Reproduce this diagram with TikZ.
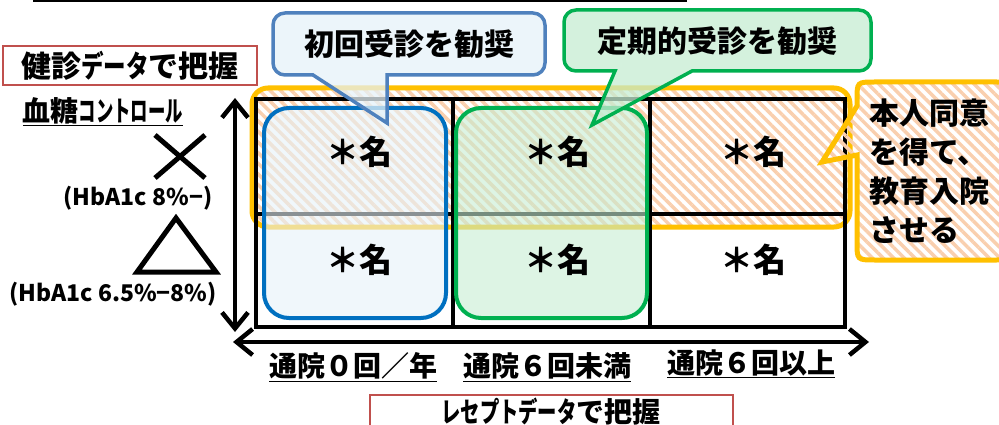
\documentclass[tikz,border=0pt]{standalone}
\usepackage{fontspec}
\setmainfont{Noto Sans CJK JP}
\usetikzlibrary{arrows.meta,patterns.meta}
\definecolor{orgline}{HTML}{FFC000}
\definecolor{orgstripe}{HTML}{F9CFAE}
\definecolor{bluel}{HTML}{0070C0}
\definecolor{bluec}{HTML}{4F81BD}
\definecolor{bluef}{HTML}{E6F2F8}
\definecolor{greenl}{HTML}{00B050}
\definecolor{greenf}{HTML}{C6ECD2}
\definecolor{redl}{HTML}{C0504D}
\newcommand{\narrow}[2]{\scalebox{#1}[1]{#2}}
\tikzset{
  stripes/.style={pattern={Lines[angle=-45,distance=7.5pt,line width=3.5pt]},pattern color=orgstripe},
  orgrect/.style={draw=orgline,line width=5pt,stripes,rounded corners=16pt},
  gridln/.style={draw=black,line width=4pt},
  bluerect/.style={draw=bluel,line width=4pt,fill=bluef,fill opacity=0.6,rounded corners=25pt},
  greenrect/.style={draw=greenl,line width=4pt,fill=greenf,fill opacity=0.6,rounded corners=25pt},
  bluecall/.style={draw=bluec,line width=3.5pt,fill=bluef,fill opacity=0.75},
  greencall/.style={draw=greenl,line width=3.5pt,fill=greenf,fill opacity=0.75},
  orgcall/.style={draw=orgline,line width=5pt,stripes},
  cnt/.style={font=\fontsize{33}{40}\selectfont\bfseries,inner sep=0pt},
  calltext/.style={font=\fontsize{30}{36}\selectfont\bfseries,inner sep=0pt},
  redbox/.style={draw=redl,line width=1.5pt,fill=white,inner sep=0pt},
  boxtext/.style={font=\fontsize{30}{36}\selectfont\bfseries,inner sep=0pt},
  lbl/.style={font=\fontsize{28}{34}\selectfont\bfseries,inner sep=0pt},
  hba/.style={font=\fontsize{23}{27}\selectfont\bfseries,inner sep=0pt},
  markln/.style={draw=black,line width=5pt},
  axis/.style={line width=4.5pt,arrows={Straight Barb[length=16pt,width=26pt]-Straight Barb[length=16pt,width=26pt]}}
}
\begin{document}
\begin{tikzpicture}[x=1pt,y=-1pt]
\path[use as bounding box] (0,0) rectangle (999,425);
\clip (0,0) rectangle (999,425);
% top line
\draw[line width=2pt] (33,0.8) -- (687,0.8);
% orange group
\path[orgrect] (252,88) rectangle (850,227);
% grid
\draw[gridln] (256,99) rectangle (845,327);
\draw[gridln] (256,214) -- (845,214);
\draw[gridln] (453,99) -- (453,327);
\draw[gridln] (650,99) -- (650,327);
% blue and green groups
\path[bluerect] (264,108) rectangle (446,318);
\path[greenrect] (456,108) rectangle (647,318);
% counts
\node[cnt] (c11) at (359,152) {＊名};
\node[cnt] (c12) at (557,152) {＊名};
\node[cnt] (c13) at (753,152) {＊名};
\node[cnt] (c21) at (359,260) {＊名};
\node[cnt] (c22) at (557,260) {＊名};
\node[cnt] (c23) at (753,260) {＊名};
% callouts
\path[bluecall] (313,75) -- (387,123) -- (387,75) [rounded corners=12pt] -- (545,75) -- (545,13) -- (273,13) -- (273,75) [sharp corners] -- cycle;
\node[calltext] (t1) at (409,44) {初回受診を勧奨};
\path[greencall] (615,71) -- (592,125) -- (692,71) [rounded corners=12pt] -- (871,71) -- (871,10) -- (564,10) -- (564,71) [sharp corners] -- cycle;
\node[calltext] (t2) at (717,41) {定期的受診を勧奨};
\path[orgcall] (822,162) -- (857,155) -- (857,242) .. controls (857,260) .. (875,260) -- (996,260) .. controls (1014,260) .. (1014,242) -- (1014,100) .. controls (1014,82) .. (996,82) -- (875,82) .. controls (857,82) .. (857,100) -- (857,106) -- cycle;
\node[calltext,anchor=north west,align=left,font=\fontsize{30}{39}\selectfont\bfseries] (t3) at (869,99) {本人同意\\を得て、\\教育入院\\させる};
% left side
\node[redbox,minimum width=254pt,minimum height=39pt] (kenshin) at (130,65.5) {};
\node[boxtext] (kenshintxt) at (130,66) {健診\narrow{0.75}{データ}で把握};
\node[lbl] (ctl) at (103,112) {\underline{血糖\narrow{0.62}{コントロール}}};
\draw[markln] (155,135) -- (205,178);
\draw[markln] (205,135) -- (155,178);
\node[hba] (h1) at (138,198) {(HbA1c 8\%−)};
\draw[markln,line join=miter] (176,218) -- (216,272) -- (137,272) -- cycle;
\node[hba] (h2) at (113,294) {(HbA1c 6.5\%−8\%)};
% axes
\coordinate (vt) at (235,98);
\coordinate (vb) at (235,332);
\coordinate (hl) at (233,342);
\coordinate (hr) at (869,342);
\draw[axis] (vt) -- (vb);
\draw[axis] (hl) -- (hr);
% bottom labels
\node[lbl] (b1) at (353,367) {\underline{通院０回／年}};
\node[lbl] (b2) at (547,367) {\underline{通院６回未満}};
\node[lbl] (b3) at (751,364) {\underline{通院６回以上}};
\node[redbox,minimum width=363pt,minimum height=42pt,anchor=north] (rece) at (551.5,394) {};
\node[boxtext,font=\fontsize{28}{34}\selectfont\bfseries] (recetxt) at (551,411.5) {\narrow{0.69}{レセプトデータ}で把握};
\end{tikzpicture}
\end{document}
